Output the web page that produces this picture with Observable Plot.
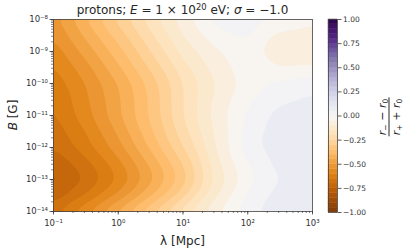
<!DOCTYPE html>
<html>
<head>
<meta charset="utf-8">
<script src="https://cdn.jsdelivr.net/npm/d3@7"></script>
<script src="https://cdn.jsdelivr.net/npm/@observablehq/plot@0.6"></script>
<style>
  html, body { margin: 0; padding: 0; background: #fff; }
  #fig { position: relative; width: 411px; height: 252px; font-family: "DejaVu Sans", sans-serif; color: #262626; overflow: hidden; }
  #fig svg { position: absolute; left: 0; top: 0; }
  .lbl { position: absolute; white-space: nowrap; line-height: 1; }
  .sup { font-size: 0.7em; position: relative; top: -0.45em; }
  .sub { font-size: 0.7em; position: relative; top: 0.3em; }
</style>
</head>
<body>
<div id="fig"></div>
<script>
// ---- data ----
const logLambda = [-1, -0.5, 0, 0.5, 1, 1.5, 2, 2.5, 3];          // log10(λ / Mpc)
const logB = [-8, -8.5, -9, -9.5, -10, -10.5, -11, -11.5, -12, -12.5, -13, -13.5, -14]; // log10(B / G)
const ratio = [
  [-0.52, -0.40, -0.28, -0.17, -0.07,  0.02,  0.03,  0.00, -0.03],
  [-0.55, -0.44, -0.33, -0.21, -0.10, -0.02,  0.01, -0.07, -0.08],
  [-0.58, -0.48, -0.37, -0.25, -0.13, -0.06, -0.02, -0.10, -0.10],
  [-0.61, -0.52, -0.41, -0.29, -0.17, -0.08, -0.02, -0.05, -0.04],
  [-0.63, -0.55, -0.45, -0.33, -0.20, -0.10, -0.03,  0.01,  0.03],
  [-0.65, -0.56, -0.46, -0.34, -0.20, -0.09, -0.01,  0.04,  0.06],
  [-0.66, -0.57, -0.46, -0.34, -0.20, -0.08,  0.01,  0.07,  0.08],
  [-0.68, -0.60, -0.49, -0.36, -0.22, -0.09,  0.02,  0.08,  0.08],
  [-0.70, -0.62, -0.52, -0.39, -0.25, -0.10,  0.03,  0.08,  0.08],
  [-0.74, -0.67, -0.57, -0.44, -0.30, -0.12,  0.00,  0.07,  0.08],
  [-0.77, -0.70, -0.60, -0.47, -0.33, -0.14, -0.02,  0.05,  0.08],
  [-0.74, -0.65, -0.54, -0.41, -0.27, -0.11,  0.01,  0.07,  0.09],
  [-0.66, -0.55, -0.43, -0.30, -0.17, -0.06,  0.03,  0.09,  0.09]
];
const xTicks = [0.1, 1, 10, 100, 1000];
const yTicks = [1e-14, 1e-13, 1e-12, 1e-11, 1e-10, 1e-9, 1e-8];
const cbTicks = [-1, -0.75, -0.5, -0.25, 0, 0.25, 0.5, 0.75, 1];
const levelStep = 0.05;
const levels = d3.range(-20, 21).map(i => i / 20);         // contour levels -1 … 1
const puor = ["#7f3b08","#b35806","#e08214","#fdb863","#fee0b6","#f7f7f7","#d8daeb","#b2abd2","#8073ac","#542788","#2d004b"];

// ---- build table ----
const points = [];
logB.forEach((b, i) => logLambda.forEach((l, j) => points.push({x: 10 ** l, y: 10 ** b, v: ratio[i][j]})));

// band colour = colormap at band midpoint (Plot fills each band with its lower level)
const half = levelStep / 2;
const color = {
  type: "linear",
  domain: puor.map((_, i) => -1 - half + i * 0.2),
  range: puor,
  interpolate: "rgb",
  clamp: true
};

const supMap = {"-": "⁻", "0": "⁰", "1": "¹", "2": "²", "3": "³", "4": "⁴", "5": "⁵", "6": "⁶", "7": "⁷", "8": "⁸", "9": "⁹"};
const pow10 = d => "10" + String(Math.round(Math.log10(d))).split("").map(c => supMap[c]).join("");

const ink = "#333";
const fig = document.getElementById("fig");

const main = Plot.plot({
  width: 411, height: 252,
  marginLeft: 53, marginRight: 99, marginTop: 19, marginBottom: 41,
  style: {fontFamily: "DejaVu Sans", fontSize: "8.5px", background: "transparent", color: ink},
  x: {type: "log", domain: [0.1, 1000], label: null},
  y: {type: "log", domain: [1e-14, 1e-8], label: null},
  color,
  marks: [
    Plot.contour(points, {x: "x", y: "y", fill: "v", interpolate: "barycentric", thresholds: levels, blur: 2.5, stroke: null}),
    Plot.frame({stroke: "#444", strokeWidth: 0.8}),
    Plot.axisX({ticks: 60, tickFormat: () => "", tickSize: 2, stroke: ink, strokeWidth: 0.6}),
    Plot.axisX({ticks: xTicks, tickFormat: pow10, tickSize: 3.5, tickPadding: 5, stroke: ink, strokeWidth: 0.8, fill: ink}),
    Plot.axisY({ticks: 60, tickFormat: () => "", tickSize: 2, stroke: ink, strokeWidth: 0.6}),
    Plot.axisY({ticks: yTicks, tickFormat: pow10, tickSize: 3.5, tickPadding: 2, stroke: ink, strokeWidth: 0.8, fill: ink})
  ]
});
fig.appendChild(main);

const bar = Plot.plot({
  width: 411, height: 252,
  marginLeft: 328, marginRight: 74, marginTop: 19, marginBottom: 40,
  style: {fontFamily: "DejaVu Sans", fontSize: "7.5px", background: "transparent", color: ink},
  x: {domain: [0, 1], axis: null},
  y: {domain: [-1, 1], axis: null},
  color,
  marks: [
    Plot.rect(levels.slice(0, -1), {x1: 0, x2: 1, y1: d => d, y2: d => d + levelStep, fill: d => d, stroke: d => d, strokeWidth: 0.4}),
    Plot.frame({stroke: "#444", strokeWidth: 0.8}),
    Plot.axisY({anchor: "right", ticks: cbTicks, tickFormat: d3.format(".2f"), tickSize: 3.5, tickPadding: 2, stroke: ink, strokeWidth: 0.8, fill: ink})
  ]
});
fig.appendChild(bar);

// ---- text overlays ----
function addLabel(html, style) {
  const d = document.createElement("div");
  d.className = "lbl";
  d.innerHTML = html;
  Object.assign(d.style, style);
  fig.appendChild(d);
  return d;
}
addLabel('protons; <i>E</i> = 1 × 10<span class="sup">20</span> eV; <i>σ</i> = −1.0',
  {left: "53px", width: "259px", top: "4px", textAlign: "center", fontSize: "12px"});
addLabel('λ [Mpc]', {left: "53px", width: "259px", top: "235px", textAlign: "center", fontSize: "12px"});
addLabel('<i>B</i> [G]', {left: "13px", top: "115px", fontSize: "12px", transform: "translate(-50%,-50%) rotate(-90deg)"});
addLabel(
  '<div style="display:inline-flex;flex-direction:column;align-items:center">' +
  '<span style="padding:0 1px 1px 1px;border-bottom:0.8px solid #262626"><i>r</i><span class="sub">−</span> − <i>r</i><span class="sub">0</span></span>' +
  '<span style="padding-top:1px"><i>r</i><span class="sub">+</span> + <i>r</i><span class="sub">0</span></span></div>',
  {left: "389px", top: "117px", fontSize: "11px", transform: "translate(-50%,-50%) rotate(-90deg)"});
</script>
</body>
</html>
